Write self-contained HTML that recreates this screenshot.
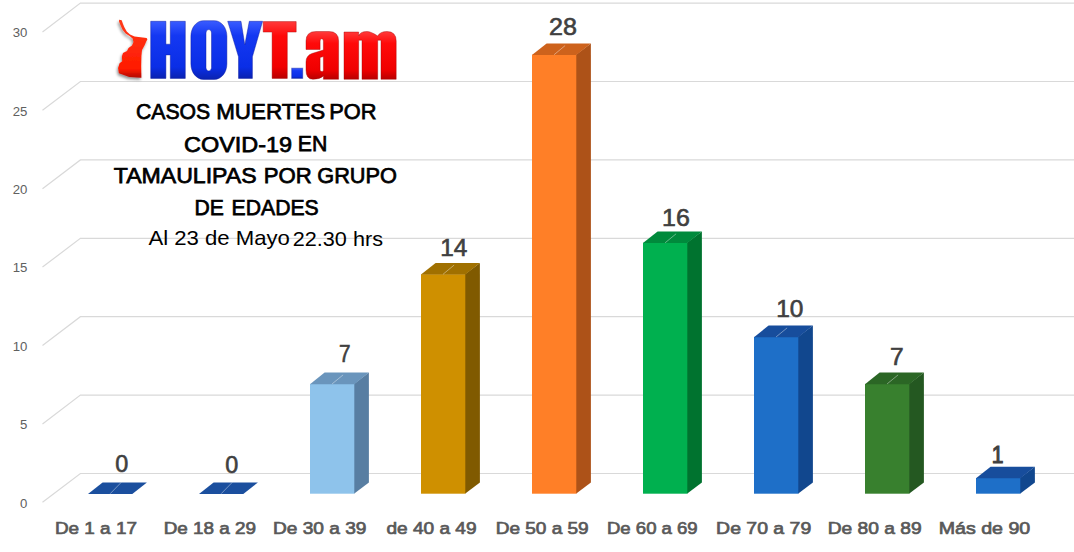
<!DOCTYPE html><html><head><meta charset="utf-8"><style>html,body{margin:0;padding:0;background:#fff;width:1074px;height:552px;overflow:hidden}svg{display:block}text{font-family:"Liberation Sans",sans-serif}</style></head><body>
<svg width="1074" height="552" viewBox="0 0 1074 552">
<defs><linearGradient id="gr" x1="0" y1="0" x2="0" y2="1"><stop offset="0" stop-color="#FF3A3A"/><stop offset="0.25" stop-color="#FF0A0A"/><stop offset="0.8" stop-color="#F00000"/><stop offset="1" stop-color="#B80000"/></linearGradient><linearGradient id="gb" x1="0" y1="0" x2="0" y2="1"><stop offset="0" stop-color="#3A5CFF"/><stop offset="0.25" stop-color="#1438F2"/><stop offset="0.8" stop-color="#0A2EE6"/><stop offset="1" stop-color="#0A22B0"/></linearGradient><filter id="sh" x="-30%" y="-30%" width="160%" height="160%"><feGaussianBlur in="SourceAlpha" stdDeviation="1.5"/><feOffset dx="-1.5" dy="1.5"/><feComponentTransfer><feFuncA type="linear" slope="0.45"/></feComponentTransfer><feMerge><feMergeNode/><feMergeNode in="SourceGraphic"/></feMerge></filter><linearGradient id="gm" x1="0" y1="0" x2="0" y2="1"><stop offset="0" stop-color="#FF3A1A"/><stop offset="0.85" stop-color="#FF1A00"/><stop offset="1" stop-color="#B00800"/></linearGradient></defs>
<g stroke="#D9D9D9" stroke-width="1.2" fill="none">
<path d="M42.5 502.3 L80.4 473.5 L1074 473.5"/>
<path d="M42.5 423.9 L80.4 395.1 L1074 395.1"/>
<path d="M42.5 345.5 L80.4 316.7 L1074 316.7"/>
<path d="M42.5 267.1 L80.4 238.3 L1074 238.3"/>
<path d="M42.5 188.7 L80.4 159.9 L1074 159.9"/>
<path d="M42.5 110.3 L80.4 81.5 L1074 81.5"/>
<path d="M42.5 31.9 L80.4 3.1 L1074 3.1"/>
</g>
<g font-size="13.2" fill="#606060" text-anchor="end">
<text x="27.4" y="507.6">0</text>
<text x="27.4" y="429.2">5</text>
<text x="27.4" y="350.8">10</text>
<text x="27.4" y="272.4">15</text>
<text x="27.4" y="194.0">20</text>
<text x="27.4" y="115.6">25</text>
<text x="27.4" y="37.2">30</text>
</g>
<path fill="#1B4F9E" d="M88.0 494.0 L102.6 482.4 L146.9 482.4 L132.3 494.0Z"/>
<path stroke="#ffffff" stroke-opacity="0.4" stroke-width="1" d="M110.2 493.7 L121.2 482.4"/>
<path fill="#1B4F9E" d="M199.0 494.0 L213.6 482.4 L257.9 482.4 L243.3 494.0Z"/>
<path stroke="#ffffff" stroke-opacity="0.4" stroke-width="1" d="M221.2 493.7 L232.2 482.4"/>
<path fill="#587EA2" d="M354.0 383.9 L368.9 372.6 L368.9 482.4 L354.0 493.7Z"/>
<rect fill="#8EC3EB" x="310.0" y="383.9" width="44.3" height="109.8"/>
<path fill="#6A95BC" d="M310.0 384.2 L324.6 372.6 L368.9 372.6 L354.3 384.2Z"/>
<path stroke="#ffffff" stroke-opacity="0.4" stroke-width="1" d="M332.1 383.9 L343.1 374.9"/>
<path fill="#805A00" d="M465.0 274.2 L479.9 262.9 L479.9 482.4 L465.0 493.7Z"/>
<rect fill="#CF9000" x="421.0" y="274.2" width="44.3" height="219.5"/>
<path fill="#A07000" d="M421.0 274.5 L435.6 262.9 L479.9 262.9 L465.3 274.5Z"/>
<path stroke="#ffffff" stroke-opacity="0.4" stroke-width="1" d="M443.1 274.2 L454.1 265.1"/>
<path fill="#AD5218" d="M576.0 54.7 L590.9 43.4 L590.9 482.4 L576.0 493.7Z"/>
<rect fill="#FF7F27" x="532.0" y="54.7" width="44.3" height="439.0"/>
<path fill="#CD621C" d="M532.0 55.0 L546.6 43.4 L590.9 43.4 L576.3 55.0Z"/>
<path stroke="#ffffff" stroke-opacity="0.4" stroke-width="1" d="M554.1 54.7 L565.1 45.6"/>
<path fill="#00732F" d="M687.0 242.8 L701.9 231.5 L701.9 482.4 L687.0 493.7Z"/>
<rect fill="#00B04F" x="643.0" y="242.8" width="44.3" height="250.9"/>
<path fill="#008A3C" d="M643.0 243.1 L657.6 231.5 L701.9 231.5 L687.3 243.1Z"/>
<path stroke="#ffffff" stroke-opacity="0.4" stroke-width="1" d="M665.1 242.8 L676.1 233.8"/>
<path fill="#11478E" d="M798.0 336.9 L812.9 325.6 L812.9 482.4 L798.0 493.7Z"/>
<rect fill="#1E6FC8" x="754.0" y="336.9" width="44.3" height="156.8"/>
<path fill="#174D9C" d="M754.0 337.2 L768.6 325.6 L812.9 325.6 L798.3 337.2Z"/>
<path stroke="#ffffff" stroke-opacity="0.4" stroke-width="1" d="M776.1 336.9 L787.1 327.9"/>
<path fill="#245821" d="M909.0 383.9 L923.9 372.6 L923.9 482.4 L909.0 493.7Z"/>
<rect fill="#38802E" x="865.0" y="383.9" width="44.3" height="109.8"/>
<path fill="#2B6625" d="M865.0 384.2 L879.6 372.6 L923.9 372.6 L909.3 384.2Z"/>
<path stroke="#ffffff" stroke-opacity="0.4" stroke-width="1" d="M887.1 383.9 L898.1 374.9"/>
<path fill="#11478E" d="M1020.0 478.0 L1034.9 466.7 L1034.9 482.4 L1020.0 493.7Z"/>
<rect fill="#1E6FC8" x="976.0" y="478.0" width="44.3" height="15.7"/>
<path fill="#174D9C" d="M976.0 478.3 L990.6 466.7 L1034.9 466.7 L1020.3 478.3Z"/>
<text x="136.03" y="119.40" font-size="22.73" font-weight="normal" fill="#000" stroke="#000" stroke-width="0.75" textLength="74.23" lengthAdjust="spacingAndGlyphs">CASOS</text>
<text x="216.17" y="119.40" font-size="22.73" font-weight="normal" fill="#000" stroke="#000" stroke-width="0.75" textLength="109.10" lengthAdjust="spacingAndGlyphs">MUERTES</text>
<text x="329.20" y="119.10" font-size="22.73" font-weight="normal" fill="#000" stroke="#000" stroke-width="0.75" textLength="47.22" lengthAdjust="spacingAndGlyphs">POR</text>
<text x="184.04" y="151.60" font-size="22.73" font-weight="normal" fill="#000" stroke="#000" stroke-width="0.75" textLength="108.13" lengthAdjust="spacingAndGlyphs">COVID-19</text>
<text x="297.82" y="151.45" font-size="22.73" font-weight="normal" fill="#000" stroke="#000" stroke-width="0.75" textLength="29.57" lengthAdjust="spacingAndGlyphs">EN</text>
<text x="113.75" y="183.20" font-size="22.73" font-weight="normal" fill="#000" stroke="#000" stroke-width="0.75" textLength="142.80" lengthAdjust="spacingAndGlyphs">TAMAULIPAS</text>
<text x="263.73" y="183.20" font-size="22.73" font-weight="normal" fill="#000" stroke="#000" stroke-width="0.75" textLength="47.99" lengthAdjust="spacingAndGlyphs">POR</text>
<text x="317.24" y="183.20" font-size="22.73" font-weight="normal" fill="#000" stroke="#000" stroke-width="0.75" textLength="79.73" lengthAdjust="spacingAndGlyphs">GRUPO</text>
<text x="194.56" y="215.05" font-size="22.73" font-weight="normal" fill="#000" stroke="#000" stroke-width="0.75" textLength="29.37" lengthAdjust="spacingAndGlyphs">DE</text>
<text x="231.62" y="215.00" font-size="22.73" font-weight="normal" fill="#000" stroke="#000" stroke-width="0.75" textLength="87.15" lengthAdjust="spacingAndGlyphs">EDADES</text>
<text x="148.40" y="244.95" font-size="20.30" font-weight="normal" fill="#000" textLength="141.50" lengthAdjust="spacingAndGlyphs">Al 23 de Mayo</text>
<text x="292.78" y="245.55" font-size="20.30" font-weight="normal" fill="#000" textLength="90.20" lengthAdjust="spacingAndGlyphs">22.30 hrs</text>
<text x="115.34" y="472.10" font-size="23.06" font-weight="normal" fill="#404040" stroke="#404040" stroke-width="0.6" textLength="13.01" lengthAdjust="spacingAndGlyphs">0</text>
<text x="225.34" y="473.10" font-size="23.06" font-weight="normal" fill="#404040" stroke="#404040" stroke-width="0.6" textLength="13.01" lengthAdjust="spacingAndGlyphs">0</text>
<text x="339.12" y="362.45" font-size="23.06" font-weight="normal" fill="#404040" stroke="#404040" stroke-width="0.6" textLength="11.54" lengthAdjust="spacingAndGlyphs">7</text>
<text x="440.17" y="256.45" font-size="23.06" font-weight="normal" fill="#404040" stroke="#404040" stroke-width="0.6" textLength="27.16" lengthAdjust="spacingAndGlyphs">14</text>
<text x="548.99" y="34.50" font-size="23.06" font-weight="normal" fill="#404040" stroke="#404040" stroke-width="0.6" textLength="27.92" lengthAdjust="spacingAndGlyphs">28</text>
<text x="662.07" y="226.20" font-size="23.06" font-weight="normal" fill="#404040" stroke="#404040" stroke-width="0.6" textLength="27.76" lengthAdjust="spacingAndGlyphs">16</text>
<text x="776.28" y="317.20" font-size="23.06" font-weight="normal" fill="#404040" stroke="#404040" stroke-width="0.6" textLength="27.18" lengthAdjust="spacingAndGlyphs">10</text>
<text x="890.02" y="365.25" font-size="23.06" font-weight="normal" fill="#404040" stroke="#404040" stroke-width="0.6" textLength="13.65" lengthAdjust="spacingAndGlyphs">7</text>
<text x="991.75" y="463.40" font-size="23.06" font-weight="normal" fill="#404040" stroke="#404040" stroke-width="1.1" textLength="11.73" lengthAdjust="spacingAndGlyphs">1</text>
<text x="54.98" y="534.20" font-size="16.84" font-weight="normal" fill="#595959" stroke="#595959" stroke-width="0.7" textLength="81.94" lengthAdjust="spacingAndGlyphs">De 1 a 17</text>
<text x="163.68" y="534.20" font-size="16.84" font-weight="normal" fill="#595959" stroke="#595959" stroke-width="0.7" textLength="92.42" lengthAdjust="spacingAndGlyphs">De 18 a 29</text>
<text x="272.98" y="534.20" font-size="16.84" font-weight="normal" fill="#595959" stroke="#595959" stroke-width="0.7" textLength="93.43" lengthAdjust="spacingAndGlyphs">De 30 a 39</text>
<text x="386.40" y="534.20" font-size="16.84" font-weight="normal" fill="#595959" stroke="#595959" stroke-width="0.7" textLength="90.10" lengthAdjust="spacingAndGlyphs">de 40 a 49</text>
<text x="495.68" y="534.20" font-size="16.84" font-weight="normal" fill="#595959" stroke="#595959" stroke-width="0.7" textLength="93.02" lengthAdjust="spacingAndGlyphs">De 50 a 59</text>
<text x="606.98" y="534.20" font-size="16.84" font-weight="normal" fill="#595959" stroke="#595959" stroke-width="0.7" textLength="90.72" lengthAdjust="spacingAndGlyphs">De 60 a 69</text>
<text x="716.13" y="534.20" font-size="16.84" font-weight="normal" fill="#595959" stroke="#595959" stroke-width="0.7" textLength="95.07" lengthAdjust="spacingAndGlyphs">De 70 a 79</text>
<text x="827.78" y="534.20" font-size="16.84" font-weight="normal" fill="#595959" stroke="#595959" stroke-width="0.7" textLength="93.82" lengthAdjust="spacingAndGlyphs">De 80 a 89</text>
<text x="938.73" y="534.20" font-size="16.84" font-weight="normal" fill="#595959" stroke="#595959" stroke-width="0.7" textLength="91.54" lengthAdjust="spacingAndGlyphs">Más de 90</text>
<g filter="url(#sh)">
<path fill="url(#gm)" d="M119.2 19.8 L121.7 20.2 L122.7 23.2 L124.2 26.9 L126.7 31.5 L130 34.5 L134.5 36.4 L146.6 38.1 L147.4 39.3 L146 42 L144.6 45.3 L142 50 L141.4 56 L141.2 66 L141.4 77.7 L129.2 77 L118.9 73.2 L118.1 68.1 L119.6 63.3 L122.2 61.2 L121.9 56.4 L123 52.9 L127 50.9 L128.5 48.1 L132 45.4 L133.5 42 L132.6 38.4 L129.6 36 L125.6 33.4 L122.4 29.4 L120.1 24.2 L118.9 21.2Z"/>
</g>
<path fill="url(#gb)" stroke="#0A1AA0" stroke-opacity="0.45" stroke-width="1" d="M150.7 21.3 H165.9 V44.2 H170.3 V21.3 H185.3 V78.4 H170.3 V54.9 H165.9 V78.4 H150.7Z"/>
<path fill="url(#gb)" stroke="#0A1AA0" stroke-opacity="0.45" stroke-width="1" fill-rule="evenodd" d="M203.40 20.70 H214.40 C221.30 20.70 226.90 27.64 226.90 36.20 V63.90 C226.90 72.46 221.30 79.40 214.40 79.40 H203.40 C196.50 79.40 190.90 72.46 190.90 63.90 V36.20 C190.90 27.64 196.50 20.70 203.40 20.70Z M208.75 29.60 H208.75 C210.27 29.60 211.50 31.17 211.50 33.10 V67.40 C211.50 69.33 210.27 70.90 208.75 70.90 H208.75 C207.23 70.90 206.00 69.33 206.00 67.40 V33.10 C206.00 31.17 207.23 29.60 208.75 29.60Z"/>
<path fill="url(#gb)" stroke="#0A1AA0" stroke-opacity="0.45" stroke-width="1" d="M227.7 21.3 H241 L244.8 44.8 L249.3 21.3 H262.6 L252.4 56.8 V78.4 H238.5 V56.8Z"/>
<path fill="url(#gr)" stroke="#A00000" stroke-opacity="0.4" stroke-width="1" d="M263.2 21.6 H296.2 V32.1 H287.3 V78.4 H272.1 V32.1 H263.2Z"/>
<rect fill="url(#gb)" stroke="#0A1AA0" stroke-opacity="0.45" stroke-width="1" x="291.7" y="68.2" width="11" height="10.2"/>
<path fill="url(#gr)" stroke="#A00000" stroke-opacity="0.4" stroke-width="1" fill-rule="evenodd" d="M306 49.5 V41 Q306 31.5 316 31.5 H329 Q338.6 31.5 338.6 41 V79.3 H323.4 V76 Q320 79.3 313 79.3 Q306 79.3 306 70 V62 Q306 55.5 312 53.5 L323.4 50 V41 Q323.4 38.8 321.7 38.8 Q320.1 38.8 320.1 41 V49.5Z M320.1 57.5 L323.4 56.5 V71 Q320.1 72.5 320.1 69.5Z"/>
<path fill="url(#gr)" stroke="#A00000" stroke-opacity="0.4" stroke-width="1" d="M344 32 H358.7 V36 Q360 31.5 367 31.5 Q371 31.5 377.7 36 Q380 31.5 387 31.5 Q396.2 31.5 396.2 41 V79.3 H381 V40.2 H377.7 V79.3 H362 V40.2 H358.7 V79.3 H344Z"/>
</svg></body></html>
